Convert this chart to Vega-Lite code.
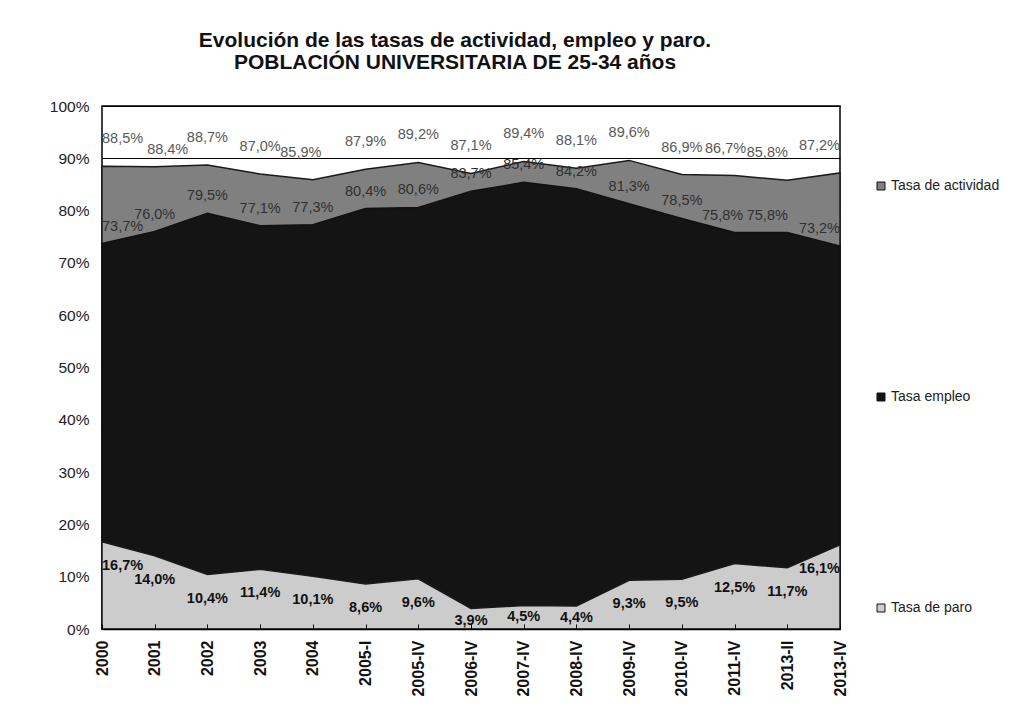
{
  "$schema": "https://vega.github.io/schema/vega-lite/v6.json",
  "width": 738,
  "height": 523,
  "autosize": {"type": "none"},
  "padding": {"left": 102, "top": 106, "right": 182, "bottom": 89},
  "background": "#ffffff",
  "config": {
    "font": "Liberation Sans",
    "locale": {
      "number": {"decimal": ",", "thousands": ".", "grouping": [3], "currency": ["", " €"]}
    },
    "view": {"stroke": "#000000", "strokeWidth": 1.5}
  },
  "title": {
    "text": ["Evolución de las tasas de actividad, empleo y paro.", "POBLACIÓN UNIVERSITARIA DE 25-34 años"],
    "font": "Liberation Sans",
    "fontSize": 21,
    "fontWeight": "bold",
    "color": "#111111",
    "lineHeight": 22,
    "anchor": "middle",
    "frame": "group",
    "dx": -16,
    "offset": 26
  },
  "data": {
    "values": [
      {"periodo": "2000", "actividad": 0.885, "empleo": 0.737, "paro": 0.167},
      {"periodo": "2001", "actividad": 0.884, "empleo": 0.760, "paro": 0.140},
      {"periodo": "2002", "actividad": 0.887, "empleo": 0.795, "paro": 0.104},
      {"periodo": "2003", "actividad": 0.870, "empleo": 0.771, "paro": 0.114},
      {"periodo": "2004", "actividad": 0.859, "empleo": 0.773, "paro": 0.101},
      {"periodo": "2005-I", "actividad": 0.879, "empleo": 0.804, "paro": 0.086},
      {"periodo": "2005-IV", "actividad": 0.892, "empleo": 0.806, "paro": 0.096},
      {"periodo": "2006-IV", "actividad": 0.871, "empleo": 0.837, "paro": 0.039},
      {"periodo": "2007-IV", "actividad": 0.894, "empleo": 0.854, "paro": 0.045},
      {"periodo": "2008-IV", "actividad": 0.881, "empleo": 0.842, "paro": 0.044},
      {"periodo": "2009-IV", "actividad": 0.896, "empleo": 0.813, "paro": 0.093},
      {"periodo": "2010-IV", "actividad": 0.869, "empleo": 0.785, "paro": 0.095},
      {"periodo": "2011-IV", "actividad": 0.867, "empleo": 0.758, "paro": 0.125},
      {"periodo": "2013-II", "actividad": 0.858, "empleo": 0.758, "paro": 0.117},
      {"periodo": "2013-IV", "actividad": 0.872, "empleo": 0.732, "paro": 0.161}
    ]
  },
  "encoding": {
    "x": {
      "field": "periodo",
      "type": "ordinal",
      "sort": null,
      "scale": {"type": "point", "padding": 0},
      "axis": {
        "title": null,
        "labelAngle": -90,
        "labelFont": "Liberation Sans",
        "labelFontSize": 16,
        "labelFontWeight": "bold",
        "labelColor": "#111111",
        "labelPadding": 16,
        "domainColor": "#000000",
        "domainWidth": 1.5,
        "tickColor": "#000000",
        "tickSize": -5,
        "tickWidth": 1,
        "grid": false,
        "zindex": 1
      }
    }
  },
  "layer": [
    {
      "mark": {"type": "area", "stroke": "#1a1a1a", "strokeWidth": 1.5, "opacity": 1},
      "encoding": {
        "y": {
          "field": "actividad",
          "type": "quantitative",
          "scale": {"domain": [0, 1]},
          "axis": {
            "title": null,
            "values": [0, 0.1, 0.2, 0.3, 0.4, 0.5, 0.6, 0.7, 0.8, 0.9, 1],
            "format": ".0%",
            "labelFont": "Liberation Sans",
            "labelFontSize": 15.5,
            "labelColor": "#222222",
            "labelPadding": 13,
            "domain": false,
            "ticks": false,
            "grid": true,
            "gridColor": "#000000",
            "gridWidth": 1.2
          }
        },
        "color": {
          "datum": "Tasa de actividad",
          "type": "nominal",
          "scale": {
            "domain": ["Tasa de actividad", "Tasa empleo", "Tasa de paro"],
            "range": ["#808080", "#141414", "#cccccc"]
          },
          "legend": {
            "title": null,
            "orient": "none",
            "legendX": 772,
            "legendY": 73,
            "padding": 0,
            "symbolType": "square",
            "symbolSize": 64,
            "symbolStrokeColor": "#000000",
            "symbolStrokeWidth": 1,
            "symbolOpacity": 1,
            "labelFont": "Liberation Sans",
            "labelFontSize": 14,
            "labelColor": "#222222",
            "labelOffset": 3,
            "rowPadding": 197
          }
        }
      }
    },
    {
      "mark": {"type": "area", "stroke": "#111111", "strokeWidth": 1.5, "opacity": 1},
      "encoding": {
        "y": {"field": "empleo", "type": "quantitative"},
        "color": {"datum": "Tasa empleo", "type": "nominal"}
      }
    },
    {
      "mark": {"type": "area", "stroke": "#1a1a1a", "strokeWidth": 1.5, "opacity": 1},
      "encoding": {
        "y": {"field": "paro", "type": "quantitative"},
        "color": {"datum": "Tasa de paro", "type": "nominal"}
      }
    },
    {
      "mark": {
        "type": "text",
        "font": "Liberation Sans",
        "fontSize": 14.5,
        "color": "#595959",
        "dy": {"expr": "datum.periodo === '2001' ? -17 : -27"},
        "dx": {"expr": "datum.periodo === '2001' ? 13 : datum.periodo === '2004' ? -12 : datum.periodo === '2011-IV' ? -9 : datum.periodo === '2013-II' ? -20 : 0"},
        "align": {"expr": "datum.periodo === '2000' ? 'left' : datum.periodo === '2013-IV' ? 'right' : 'center'"}
      },
      "encoding": {
        "y": {"field": "actividad", "type": "quantitative"},
        "text": {"field": "actividad", "type": "quantitative", "format": ".1%"}
      }
    },
    {
      "mark": {
        "type": "text",
        "font": "Liberation Sans",
        "fontSize": 14.5,
        "color": "#303030",
        "dy": -17,
        "dx": {"expr": "datum.periodo === '2011-IV' ? -12 : datum.periodo === '2013-II' ? -20 : 0"},
        "align": {"expr": "datum.periodo === '2000' ? 'left' : datum.periodo === '2013-IV' ? 'right' : 'center'"}
      },
      "encoding": {
        "y": {"field": "empleo", "type": "quantitative"},
        "text": {"field": "empleo", "type": "quantitative", "format": ".1%"}
      }
    },
    {
      "mark": {
        "type": "text",
        "font": "Liberation Sans",
        "fontSize": 14.5,
        "fontWeight": "bold",
        "color": "#111111",
        "dy": {"expr": "datum.paro < 0.05 ? 12 : 24"},
        "align": {"expr": "datum.periodo === '2000' ? 'left' : datum.periodo === '2013-IV' ? 'right' : 'center'"}
      },
      "encoding": {
        "y": {"field": "paro", "type": "quantitative"},
        "text": {"field": "paro", "type": "quantitative", "format": ".1%"}
      }
    }
  ]
}
